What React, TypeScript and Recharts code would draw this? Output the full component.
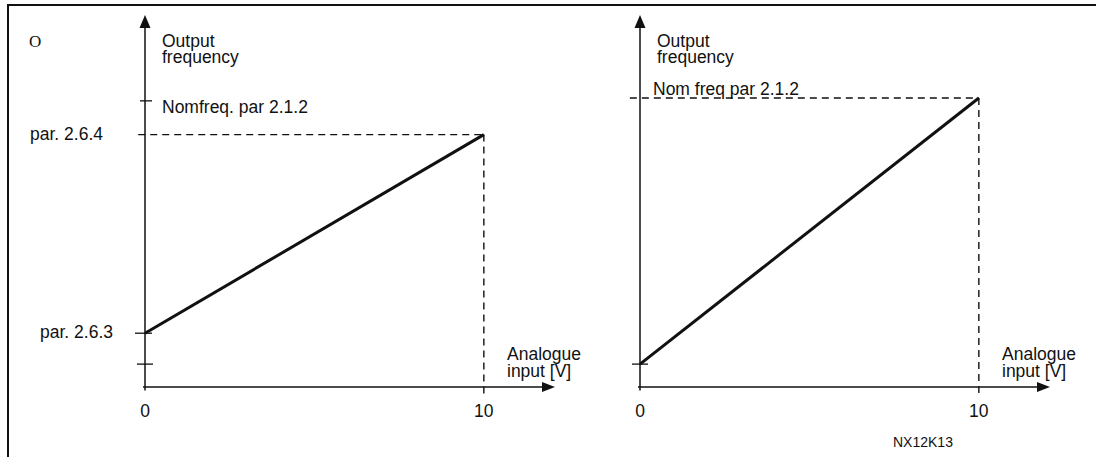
import React from "react";
import {
  LineChart,
  Line,
  XAxis,
  YAxis,
  ReferenceLine,
  ReferenceDot,
  Label,
} from "recharts";

const FONT = '"Liberation Sans", Arial, Helvetica, sans-serif';
const INK = "#111";
const FS = 17.5;

// x: analogue input [V], y: output frequency (arbitrary units)
const xTicks = [0, 10];
const X_MAX = 12.1;
const Y_MAX = 65;

const leftLine = [
  { x: 0, y: 9.4 },
  { x: 10, y: 44.1 },
];
const leftYTicks = [4, 9.4, 44.1, 50];
const leftYLabels = ["", "par. 2.6.3", "par. 2.6.4", "Nomfreq. par 2.1.2"];
const leftDashY = 44.1;

const rightLine = [
  { x: 0, y: 4 },
  { x: 10, y: 50.5 },
];
const rightYTicks = [4, 50.5];
const rightYLabels = ["", "Nom freq par 2.1.2"];
const rightDashY = 50.5;

type TickStyle = {
  mark: [number, number] | null;
  dx: number;
  dy: number;
  anchor: "start" | "end";
};

const leftTickStyle: TickStyle[] = [
  { mark: [-8, 8], dx: 0, dy: 0, anchor: "end" },
  { mark: [-10, 7], dx: -32, dy: 5, anchor: "end" },
  { mark: null, dx: -42, dy: 5, anchor: "end" },
  { mark: [-5, 7], dx: 17, dy: 12, anchor: "start" },
];
const rightTickStyle: TickStyle[] = [
  { mark: [-8, 8], dx: 0, dy: 0, anchor: "end" },
  { mark: null, dx: 13, dy: -3, anchor: "start" },
];

const UpArrow = (props: any) => {
  const { cx, cy } = props;
  return (
    <path
      d={`M${cx},${cy} L${cx - 5.5},${cy + 13} L${cx + 5.5},${cy + 13} Z`}
      fill={INK}
    />
  );
};

const RightArrow = (props: any) => {
  const { cx, cy } = props;
  return (
    <path
      d={`M${cx},${cy} L${cx - 13},${cy - 5} L${cx - 13},${cy + 5} Z`}
      fill={INK}
    />
  );
};

const makeTick =
  (ticks: number[], labels: string[], styles: TickStyle[]) => (props: any) => {
    const { x, y, payload } = props;
    const i = ticks.indexOf(payload.value);
    const s = styles[i];
    if (!s) return null;
    return (
      <g>
        {s.mark && (
          <line
            x1={x + s.mark[0]}
            x2={x + s.mark[1]}
            y1={y}
            y2={y}
            stroke={INK}
            strokeWidth={1.3}
          />
        )}
        {labels[i] && (
          <text
            x={x + s.dx}
            y={y + s.dy}
            textAnchor={s.anchor}
            fontFamily={FONT}
            fontSize={FS}
            fill={INK}
          >
            {labels[i]}
          </text>
        )}
      </g>
    );
  };

type PanelProps = {
  left: number;
  width: number;
  margin: { top: number; right: number; bottom: number; left: number };
  line: { x: number; y: number }[];
  yTicks: number[];
  yLabels: string[];
  tickStyle: TickStyle[];
  dashY: number;
  dashStart: number;
  showO?: boolean;
  showCode?: boolean;
};

const Panel = (p: PanelProps) => {
  // axis line sits at viewBox.x + 1 (the y axis is 1px wide)
  const yTitle = (props: any) => {
    const { x, y } = props.viewBox;
    const ax = x + 1;
    return (
      <g fontFamily={FONT} fontSize={FS} fill={INK}>
        {p.showO && (
          <text x={ax - 116} y={y + 32} fontFamily="'Liberation Serif', serif" fontSize={17}>
            O
          </text>
        )}
        <text x={ax + 17} y={y + 32}>
          <tspan x={ax + 17}>Output</tspan>
          <tspan x={ax + 17} dy={16}>
            frequency
          </tspan>
        </text>
      </g>
    );
  };
  const xTitle = (props: any) => {
    const { x, y } = props.viewBox;
    return (
      <g fontFamily={FONT} fontSize={FS} fill={INK}>
        <text x={x + 362} y={y - 27}>
          <tspan x={x + 362}>Analogue</tspan>
          <tspan x={x + 362} dy={17}>
            input [V]
          </tspan>
        </text>
        {p.showCode && (
          <text x={x + 253} y={y + 60} fontSize={14}>
            NX12K13
          </text>
        )}
      </g>
    );
  };
  return (
    <div style={{ position: "absolute", left: p.left, top: 0 }}>
      <LineChart width={p.width} height={457} data={p.line} margin={p.margin}>
        <XAxis
          type="number"
          dataKey="x"
          domain={[0, X_MAX]}
          ticks={xTicks}
          height={1}
          axisLine={false}
          tickLine={false}
          tickSize={0}
          tickMargin={18}
          tick={{ fill: INK, fontSize: FS, fontFamily: FONT }}
        >
          <Label content={xTitle} />
        </XAxis>
        <YAxis
          type="number"
          domain={[0, Y_MAX]}
          ticks={p.yTicks}
          width={1}
          axisLine={false}
          tickLine={false}
          tickSize={0}
          tickMargin={0}
          tick={makeTick(p.yTicks, p.yLabels, p.tickStyle)}
        >
          <Label content={yTitle} />
        </YAxis>
        <ReferenceLine
          segment={[
            { x: -0.06, y: 0 },
            { x: X_MAX - 0.2, y: 0 },
          ]}
          stroke={INK}
          strokeWidth={1.5}
          ifOverflow="visible"
        />
        <ReferenceLine
          segment={[
            { x: 0, y: -0.6 },
            { x: 0, y: Y_MAX - 1 },
          ]}
          stroke={INK}
          strokeWidth={1.5}
          ifOverflow="visible"
        />
        <ReferenceDot x={X_MAX} y={0} r={0} shape={RightArrow} ifOverflow="visible" />
        <ReferenceDot x={0} y={Y_MAX} r={0} shape={UpArrow} ifOverflow="visible" />
        <ReferenceLine
          segment={[
            { x: p.dashStart, y: p.dashY },
            { x: 10, y: p.dashY },
          ]}
          stroke={INK}
          strokeWidth={1.4}
          strokeDasharray="7 5"
          ifOverflow="visible"
        />
        <ReferenceLine
          segment={[
            { x: 10, y: p.dashY },
            { x: 10, y: -1.7 },
          ]}
          stroke={INK}
          strokeWidth={1.4}
          strokeDasharray="7 5"
          ifOverflow="visible"
        />
        <Line
          type="linear"
          dataKey="y"
          stroke={INK}
          strokeWidth={3}
          dot={false}
          activeDot={false}
          isAnimationActive={false}
        />
      </LineChart>
    </div>
  );
};

export default function App() {
  return (
    <div
      style={{
        position: "absolute",
        left: 0,
        top: 0,
        width: 1096,
        height: 457,
        background: "#fff",
        overflow: "hidden",
      }}
    >
      <div
        style={{
          position: "absolute",
          left: 7,
          top: 4,
          right: -10,
          bottom: -10,
          borderTop: `2px solid ${INK}`,
          borderLeft: `2px solid ${INK}`,
        }}
      />
      <Panel
        left={0}
        width={600}
        margin={{ top: 15, right: 45, bottom: 69, left: 144 }}
        line={leftLine}
        yTicks={leftYTicks}
        yLabels={leftYLabels}
        tickStyle={leftTickStyle}
        dashY={leftDashY}
        dashStart={-0.2}
        showO
      />
      <Panel
        left={500}
        width={596}
        margin={{ top: 15, right: 46, bottom: 69, left: 139 }}
        line={rightLine}
        yTicks={rightYTicks}
        yLabels={rightYLabels}
        tickStyle={rightTickStyle}
        dashY={rightDashY}
        dashStart={-0.3}
        showCode
      />
    </div>
  );
}
